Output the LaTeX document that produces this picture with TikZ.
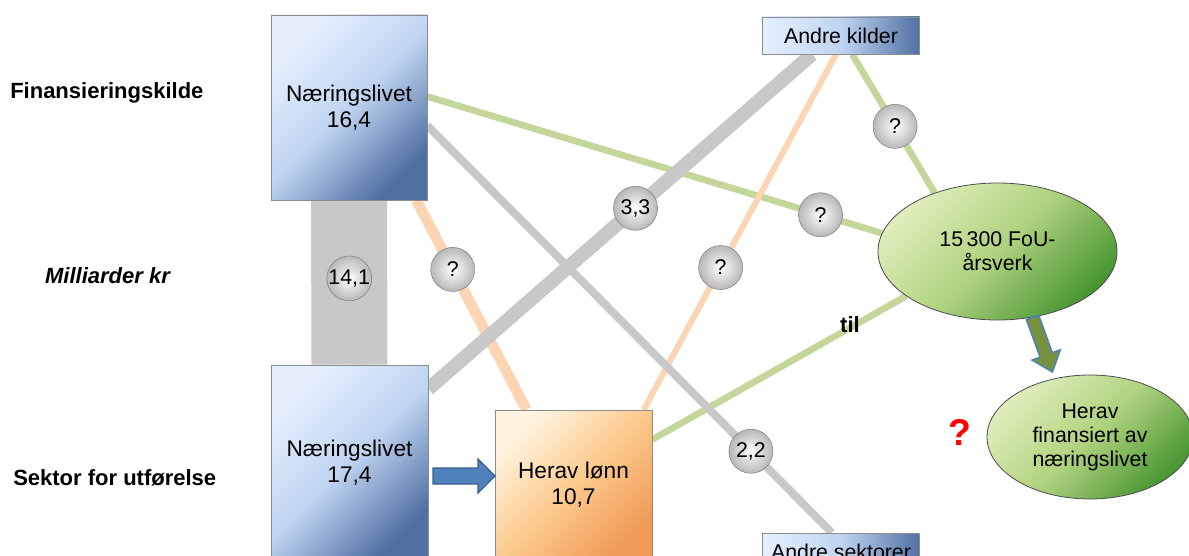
\documentclass[tikz,border=0pt]{standalone}
\usepackage{fontspec}
\setmainfont{Liberation Sans}
\usetikzlibrary{backgrounds,shapes.geometric}

\definecolor{blaalys}{RGB}{230,240,253}
\definecolor{blaamid}{RGB}{192,212,241}
\definecolor{blaamork}{RGB}{80,112,162}
\definecolor{oransjelys}{RGB}{255,244,224}
\definecolor{oransjemid}{RGB}{251,202,142}
\definecolor{oransjemork}{RGB}{240,156,88}
\definecolor{gronnlys}{RGB}{222,238,188}
\definecolor{gronnmid}{RGB}{176,210,126}
\definecolor{gronnmork}{RGB}{72,150,50}
\definecolor{strekgronn}{RGB}{196,215,155}
\definecolor{strekgraa}{RGB}{200,200,200}
\definecolor{strekfersken}{RGB}{252,213,180}
\definecolor{pilblaa}{RGB}{79,129,189}
\definecolor{pilkant}{RGB}{56,93,138}
\definecolor{piloliven}{RGB}{118,146,60}

\tikzset{
  etikett/.style={inner sep=0pt,font=\fontsize{16.5}{19}\selectfont\bfseries},
  boks/.style={draw=black!45,line width=0.5pt,inner sep=0pt,align=center,
    font=\fontsize{17}{19.5}\selectfont},
  blaaboks/.style={boks,top color=blaalys,bottom color=blaamork,middle color=blaamid,shading angle=45},
  oransjeboks/.style={boks,top color=oransjelys,bottom color=oransjemork,middle color=oransjemid,shading angle=45},
  kildeboks/.style={boks,left color=blaalys,right color=blaamork,middle color=blaamid,
    font=\fontsize{16}{18}\selectfont,minimum width=118pt,minimum height=27.75pt},
  gronnellipse/.style={ellipse,draw=black!70,line width=0.6pt,inner sep=0pt,align=center,
    top color=gronnlys,bottom color=gronnmork,middle color=gronnmid,shading angle=45,
    font=\fontsize{16}{18}\selectfont},
  kule/.style={circle,inner color=white,outer color=black!28,draw=black!50,line width=0.4pt,
    minimum size=33pt,inner sep=0pt,font=\fontsize{16}{18}\selectfont},
  gronn/.style={draw=strekgronn,line width=5pt},
  graa/.style={draw=strekgraa},
  fersken/.style={draw=strekfersken},
  blaapil/.style={fill=pilblaa,draw=pilkant,line width=0.8pt},
  olivenpil/.style={fill=piloliven,draw=pilblaa,line width=1.2pt}
}

\begin{document}
\begin{tikzpicture}[x=0.75pt,y=-0.75pt]
\useasboundingbox (0,0) rectangle (1189,556);

% tekster til venstre
\node[etikett,anchor=west] (fin) at (10,93) {Finansieringskilde};
\node[etikett,font=\fontsize{16.5}{19}\selectfont\bfseries\itshape] (mrd) at (107.5,276) {Milliarder kr};
\node[etikett,anchor=west] (sek) at (13,478) {Sektor for utførelse};

% bokser og ellipser
\node[blaaboks,minimum width=117pt,minimum height=138.75pt] (ntop) at (349,107.5) {Næringslivet\\16,4};
\node[blaaboks,minimum width=117.75pt,minimum height=146.25pt] (nbot) at (349.5,462.5) {Næringslivet\\17,4};
\node[oransjeboks,minimum width=117.75pt,minimum height=112.5pt] (lonn) at (573.5,485) {Herav lønn\\10,7};
\node[kildeboks] (kilder) at (841,35.5) {Andre kilder};
\node[kildeboks] (sektor) at (841,551.5) {Andre sektorer};
\node[gronnellipse,minimum width=179.25pt,minimum height=102.75pt] (fou) at (997.5,251.5) {15\,300 FoU-\\årsverk};
\node[gronnellipse,minimum width=154.5pt,minimum height=93pt] (herav) at (1090,437) {Herav\\finansiert av\\næringslivet};

\node[etikett] (til) at (850,325) {til};
\node[font=\fontsize{28}{30}\selectfont\bfseries,text=red] (spm) at (960,432) {?};

% strømmer
\begin{pgfonlayer}{background}
\draw[graa,line width=57pt] (ntop) -- node[kule,pos=0.475] {14,1} (nbot);
\draw[gronn] (ntop.8) -- node[kule,pos=0.865] {?} (fou.171);
\draw[gronn] (kilder.-59) -- node[kule,pos=0.52] {?} (fou.137);
\draw[gronn] (lonn.30) -- (fou.206);
\draw[fersken,line width=8pt] (ntop.-54) -- node[kule,pos=0.33] {?} (lonn.122);
\draw[fersken,line width=4.5pt] (lonn.47) -- node[kule,pos=0.4] {?} (kilder.-105);
\draw[graa,line width=10.5pt] (nbot.43) -- node[kule,pos=0.54] {3,3} (kilder.-147);
\draw[graa,line width=6pt] (ntop.-13) -- node[kule,pos=0.8] {2,2} (sektor.116);
\end{pgfonlayer}

% piler
\draw[blaapil] (433,468) -- (478,468) -- (478,459) -- (495,476) -- (478,493) -- (478,484) -- (433,484) -- cycle;
\draw[olivenpil,shift={(fou.-62)},rotate=-70] (0,-6.5) -- (40,-6.5) -- (40,-15) -- (58,0) -- (40,15) -- (40,6.5) -- (0,6.5) -- cycle;
\end{tikzpicture}
\end{document}
